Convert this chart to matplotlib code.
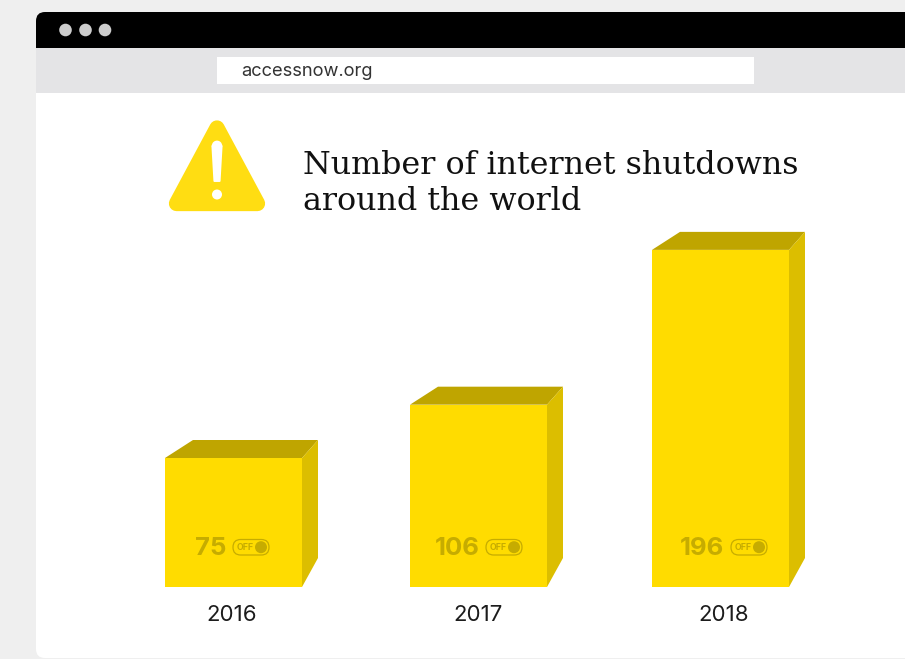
import matplotlib
matplotlib.use("Agg")
import matplotlib.pyplot as plt
from matplotlib.patches import Circle, FancyBboxPatch, Polygon, Rectangle

# Chart data
years = ["2016", "2017", "2018"]
shutdowns = [75, 106, 196]

# Layout, in pixels of a 905x659 canvas
W, H = 905, 659
BASE_Y = 587
PX_PER_UNIT = 1.72
BAR_LEFT = [165, 410, 652]
BAR_WIDTH = 137
YEAR_X = [232, 478, 724]
TOGGLE_LEFT = [233, 486, 731]

YELLOW = "#ffdc00"
TOP_SHADE = "#bfa500"
SIDE_SHADE = "#dcbe00"
MUTED = "#c6ac00"
SANS = "Inter"
SERIF = "DejaVu Serif"


def pixel_axes(zorder):
    """Full-canvas transparent axes addressed in pixels, y pointing down."""
    a = fig.add_axes([0, 0, 1, 1], facecolor="none", zorder=zorder)
    a.set_xlim(0, W)
    a.set_ylim(H, 0)
    a.axis("off")
    return a


fig = plt.figure(figsize=(W / 100, H / 100), dpi=100, facecolor="#efefef")

# Browser window chrome
chrome = pixel_axes(1)
chrome.add_patch(FancyBboxPatch((36, 12), W + 40, H - 13, boxstyle="round,pad=0,rounding_size=9",
                                fc="white", ec="none", zorder=1))
chrome.add_patch(FancyBboxPatch((36, 12), W + 40, 60, boxstyle="round,pad=0,rounding_size=9",
                                fc="black", ec="none", zorder=2))
chrome.add_patch(Rectangle((36, 47.5), W, 45.5, fc="#e4e4e6", ec="none", zorder=3))
chrome.add_patch(Rectangle((216.5, 57), 537, 26.5, fc="white", ec="none", zorder=4))
for cx in (65.5, 85.5, 105):
    chrome.add_patch(Circle((cx, 30), 6.3, fc="#cdcdcd", ec="none", zorder=4))
chrome.text(241, 71, "accessnow.org", family=SANS, fontsize=13.2, color="#333333",
            va="center", ha="left", zorder=5)

# Warning sign
chrome.add_patch(Polygon([(217, 128), (176.5, 203.5), (257.5, 203.5)], closed=True, fc="#ffdd12",
                         ec="#ffdd12", lw=11, joinstyle="round", zorder=4))
chrome.add_patch(Polygon([(212.4, 146), (221.6, 146), (219.6, 181), (214.4, 181)], closed=True,
                         fc="white", ec="white", lw=1.4, joinstyle="round", zorder=5))
chrome.add_patch(Circle((217, 145.8), 5.2, fc="white", ec="none", zorder=5))
chrome.add_patch(Circle((217, 194.5), 5, fc="white", ec="none", zorder=5))

# Title
chrome.text(303, 165, "Number of internet shutdowns", family=SERIF, fontsize=22.9,
            color="#111111", va="center", ha="left", zorder=5)
chrome.text(303, 201, "around the world", family=SERIF, fontsize=22.9,
            color="#111111", va="center", ha="left", zorder=5)

# Bars: the y axis runs in shutdown counts, with zero on the baseline
bars = fig.add_axes([0, 0, 1, 1], facecolor="none", zorder=2)
bars.set_xlim(0, W)
bars.set_ylim((BASE_Y - H) / PX_PER_UNIT, BASE_Y / PX_PER_UNIT)
bars.axis("off")

# Value labels, toggles and year captions
labels = pixel_axes(3)

rise = 18 / PX_PER_UNIT
foot = 29 / PX_PER_UNIT
for year, value, left, year_x, tog in zip(years, shutdowns, BAR_LEFT, YEAR_X, TOGGLE_LEFT):
    right = left + BAR_WIDTH
    bars.bar(left, value, width=BAR_WIDTH, align="edge", color=YELLOW, zorder=3)
    bars.add_patch(Polygon([(left, value), (left + 28, value + rise),
                            (right + 16, value + rise), (right, value)],
                           closed=True, fc=TOP_SHADE, ec="none", zorder=2))
    bars.add_patch(Polygon([(right, value), (right + 16, value + rise),
                            (right + 16, foot), (right, 0)],
                           closed=True, fc=SIDE_SHADE, ec="none", zorder=2))

    labels.text(tog - 6.5, 548.5, str(value), family=SANS, fontsize=18.5, fontweight="bold",
                color=MUTED, va="center", ha="right")
    labels.add_patch(FancyBboxPatch((tog, 539.5), 36, 15.5, boxstyle="round,pad=0,rounding_size=7.7",
                                    fc="none", ec=MUTED, lw=0.9))
    labels.add_patch(Circle((tog + 28, 547.2), 6, fc=MUTED, ec="none"))
    labels.text(tog + 3.5, 547.5, "OFF", family=SANS, fontsize=6.3, fontweight="bold",
                color=MUTED, va="center", ha="left")
    labels.text(year_x, 615, year, family=SANS, fontsize=16, color="#1c1c1c",
                va="center", ha="center")

fig.savefig("out.png", dpi=100, facecolor=fig.get_facecolor())
